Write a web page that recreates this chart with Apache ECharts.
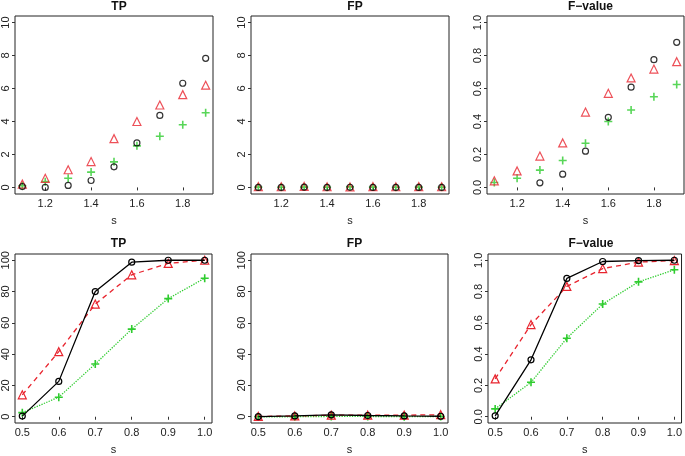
<!DOCTYPE html>
<html><head><meta charset="utf-8">
<script src="https://cdn.jsdelivr.net/npm/echarts@6/dist/echarts.min.js"></script>
<style>html,body{margin:0;padding:0;background:#fff}#c{width:685px;height:456px}</style>
</head><body><div id="c"></div>
<script>
var sTop = [1.1,1.2,1.3,1.4,1.5,1.6,1.7,1.8,1.9];
var sBot = [0.5,0.6,0.7,0.8,0.9,1.0];

var tpTopBlack = [0.05,0.0,0.12,0.42,1.25,2.7,4.37,6.32,7.83];
var tpTopRed   = [0.2,0.55,1.07,1.57,2.96,4.0,5.0,5.63,6.2];
var tpTopGreen = [0.1,0.35,0.56,0.93,1.55,2.52,3.1,3.8,4.53];

var fpTopBlack = [0.0,0.0,0.02,0.0,0.01,0.0,0.0,0.0,0.0];
var fpTopRed   = [0.05,0.04,0.06,0.04,0.03,0.05,0.04,0.05,0.04];
var fpTopGreen = [0.02,0.01,0.02,0.01,0.03,0.02,0.01,0.02,0.01];

var fTopBlack = [null,null,0.028,0.08,0.22,0.425,0.608,0.775,0.88];
var fTopRed   = [0.04,0.10,0.19,0.27,0.457,0.571,0.664,0.718,0.763];
var fTopGreen = [0.03,0.056,0.105,0.163,0.268,0.40,0.47,0.55,0.624];

var tpBotBlack = [0.4,22.6,80,98.8,100,100];
var tpBotRed   = [14,41.6,72,90.7,98,100];
var tpBotGreen = [2.6,12.5,33.7,56,75.5,88.5];

var fpBotBlack = [0.1,0.5,1.2,0.8,0.5,0.3];
var fpBotRed   = [0.2,0.5,1.0,1.0,1.0,1.3];
var fpBotGreen = [0.0,0.0,0.2,0.2,0.0,0.2];

var fBotBlack = [0.006,0.364,0.884,0.992,0.998,1.0];
var fBotRed   = [0.242,0.589,0.833,0.947,0.988,0.998];
var fBotGreen = [0.05,0.22,0.502,0.72,0.862,0.939];

var titles = ['TP','FP','F\u2212value','TP','FP','F\u2212value'];
var xTicksTop = [1.2,1.4,1.6,1.8];
var xTicksBot = [0.5,0.6,0.7,0.8,0.9,1.0];
var yTicksCount = [0,2,4,6,8,10];
var yTicksFrac = [0,0.2,0.4,0.6,0.8,1.0];
var yTicksPct = [0,20,40,60,80,100];

var BLACK='#000000', RED='#e8242e', GREEN='#2ecc2e';
var PLUS='path://M0,5L10,5M5,0L5,10';

var grids = [
  {left:15,top:16,width:198,height:178},
  {left:251,top:16,width:198,height:178},
  {left:487,top:16,width:197,height:178},
  {left:15,top:254,width:197,height:177},
  {left:251,top:254,width:197,height:177},
  {left:488,top:254,width:196,height:177}
];

function pairs(xs, ys){ return xs.map(function(x,i){ return [x, ys[i]]; }); }

var fontFam = 'Liberation Sans, Arial, sans-serif';
var xAxes = [], yAxes = [], series = [], titleArr = [];
for (var i=0;i<6;i++){
  var isTop = i<3;
  var xt = isTop ? xTicksTop : xTicksBot;
  xAxes.push({
    type:'value', gridIndex:i,
    min: isTop ? 1.068 : 0.48, max: isTop ? 1.932 : 1.02,
    name:'s', nameLocation:'middle', nameGap: 21,
    nameTextStyle:{fontSize:11, color:'#222', fontFamily:fontFam},
    axisLine:{show:false}, splitLine:{show:false},
    axisTick:{show:true, inside:false, length:3, customValues:xt, lineStyle:{color:'#333'}},
    axisLabel:{fontSize:11, color:'#222', margin:4, fontFamily:fontFam, customValues:xt,
      formatter:function(v){ return (+v).toFixed(1); }}
  });
  var yt, ymin, ymax, fmt;
  if (i===0||i===1){ yt=yTicksCount; ymin=-0.4; ymax=10.4; fmt=function(v){return String(Math.round(v));}; }
  else if (i===2||i===5){ yt=yTicksFrac; ymin=-0.04; ymax=1.04; fmt=function(v){return (+v).toFixed(1);}; }
  else { yt=yTicksPct; ymin=-4; ymax=104; fmt=function(v){return String(Math.round(v));}; }
  yAxes.push({
    type:'value', gridIndex:i, min:ymin, max:ymax,
    axisLine:{show:false}, splitLine:{show:false},
    axisTick:{show:true, inside:false, length:3, customValues:yt, lineStyle:{color:'#333'}},
    axisLabel:{fontSize:11, color:'#222', margin:4, rotate:90, fontFamily:fontFam, customValues:yt, formatter:fmt}
  });
  titleArr.push({
    text: titles[i],
    left: grids[i].left + grids[i].width/2, top: isTop ? -4 : 233, textAlign:'center',
    textStyle:{fontSize:12, fontWeight:'bold', color:'#111', fontFamily:fontFam}
  });
}

function mk(idx, xs, ys, color, kind, lineType){
  var sym = kind==='c' ? 'circle' : (kind==='t' ? 'triangle' : PLUS);
  var size = kind==='c' ? 6 : 8;
  var s = {
    type: lineType ? 'line' : 'scatter',
    xAxisIndex: idx, yAxisIndex: idx,
    data: pairs(xs, ys),
    symbol: sym, symbolSize: size,
    itemStyle:{color:'rgba(0,0,0,0)', borderColor:color, borderWidth: kind==='p'?1.6:1.2},
    z: kind==='c'?4:3,
    silent:true, animation:false
  };
  if (lineType){
    s.showSymbol = true;
    s.connectNulls = false;
    s.lineStyle = {color:color, width:1.3, type:lineType};
    s.emphasis = {disabled:true};
  }
  return s;
}

series.push(mk(0,sTop,tpTopGreen,GREEN,'p'));
series.push(mk(0,sTop,tpTopRed,RED,'t'));
series.push(mk(0,sTop,tpTopBlack,BLACK,'c'));
series.push(mk(1,sTop,fpTopGreen,GREEN,'p'));
series.push(mk(1,sTop,fpTopRed,RED,'t'));
series.push(mk(1,sTop,fpTopBlack,BLACK,'c'));
series.push(mk(2,sTop,fTopGreen,GREEN,'p'));
series.push(mk(2,sTop,fTopRed,RED,'t'));
series.push(mk(2,sTop,fTopBlack,BLACK,'c'));

series.push(mk(3,sBot,tpBotGreen,GREEN,'p','dotted'));
series.push(mk(3,sBot,tpBotRed,RED,'t',[5,4]));
series.push(mk(3,sBot,tpBotBlack,BLACK,'c','solid'));
series.push(mk(4,sBot,fpBotGreen,GREEN,'p','dotted'));
series.push(mk(4,sBot,fpBotRed,RED,'t',[5,4]));
series.push(mk(4,sBot,fpBotBlack,BLACK,'c','solid'));
series.push(mk(5,sBot,fBotGreen,GREEN,'p','dotted'));
series.push(mk(5,sBot,fBotRed,RED,'t',[5,4]));
series.push(mk(5,sBot,fBotBlack,BLACK,'c','solid'));

var chart = echarts.init(document.getElementById('c'), null, {renderer:'canvas'});
chart.setOption({
  backgroundColor:'#ffffff',
  animation:false,
  title: titleArr,
  grid: grids.map(function(g){ return {left:g.left, top:g.top, width:g.width, height:g.height, show:true, borderColor:'#222', borderWidth:1, backgroundColor:'transparent', containLabel:false}; }),
  xAxis: xAxes,
  yAxis: yAxes,
  series: series
});
</script>
</body></html>
